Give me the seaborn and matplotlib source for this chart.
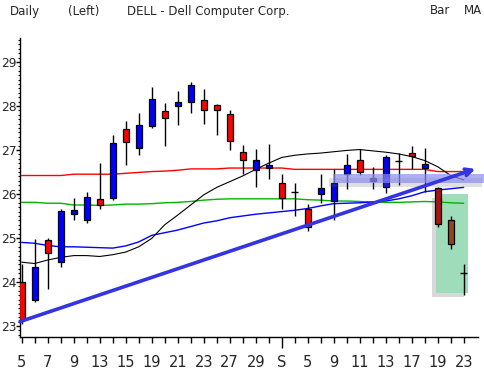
import numpy as np
import matplotlib
matplotlib.use("Agg")
import matplotlib.pyplot as plt
import seaborn as sns
from matplotlib.patches import Rectangle
from matplotlib.ticker import MultipleLocator

# daily OHLC, DELL, Aug 5 - Sep 23
opens  = [24.00, 23.59, 24.95, 24.45, 25.55, 25.42, 25.89, 25.92, 27.47, 27.05,
          27.55, 27.88, 28.01, 28.10, 28.13, 28.02, 27.82, 26.95, 26.55, 26.60,
          26.24, 26.04, 25.67, 26.00, 25.84, 26.46, 26.77, 26.30, 26.17, 26.76,
          26.93, 26.60, 26.13, 25.40, 24.20]
highs  = [24.42, 24.97, 24.99, 25.65, 25.91, 26.05, 26.71, 27.35, 27.66, 27.83,
          28.43, 28.07, 28.34, 28.55, 28.39, 28.05, 27.92, 27.11, 27.02, 27.14,
          26.45, 26.24, 25.77, 26.45, 26.56, 26.91, 27.02, 26.61, 26.89, 26.93,
          27.08, 27.05, 26.17, 25.50, 24.41]
lows   = [23.05, 23.54, 23.85, 24.35, 25.42, 25.34, 25.67, 25.86, 26.66, 26.89,
          27.51, 27.08, 27.57, 27.85, 27.60, 27.33, 26.99, 26.45, 26.17, 26.33,
          25.67, 25.51, 25.17, 25.80, 25.41, 26.11, 26.43, 26.12, 26.03, 26.20,
          26.57, 26.05, 25.24, 24.76, 23.71]
closes = [23.14, 24.33, 24.67, 25.61, 25.63, 25.93, 25.76, 27.17, 27.19, 27.57,
          28.16, 27.73, 28.08, 28.48, 27.90, 27.92, 27.20, 26.77, 26.77, 26.65,
          25.92, 26.04, 25.26, 26.14, 26.24, 26.65, 26.49, 26.36, 26.83, 26.76,
          26.87, 26.68, 25.31, 24.86, 24.20]

# moving averages
ma_red   = [26.42, 26.42, 26.42, 26.42, 26.45, 26.45, 26.45, 26.45, 26.47, 26.49,
            26.51, 26.52, 26.54, 26.57, 26.57, 26.57, 26.59, 26.59, 26.59, 26.59,
            26.59, 26.56, 26.56, 26.56, 26.56, 26.56, 26.56, 26.56, 26.56, 26.56,
            26.56, 26.56, 26.51, 26.51, 26.51]
ma_green = [25.81, 25.81, 25.79, 25.79, 25.75, 25.75, 25.74, 25.75, 25.77, 25.77,
            25.78, 25.80, 25.81, 25.83, 25.86, 25.88, 25.89, 25.89, 25.89, 25.89,
            25.89, 25.89, 25.87, 25.86, 25.84, 25.84, 25.83, 25.81, 25.81, 25.81,
            25.82, 25.83, 25.82, 25.80, 25.79]
ma_blue  = [24.90, 24.88, 24.83, 24.80, 24.80, 24.79, 24.78, 24.77, 24.82, 24.91,
            25.06, 25.12, 25.18, 25.26, 25.34, 25.39, 25.46, 25.50, 25.54, 25.57,
            25.60, 25.63, 25.67, 25.73, 25.78, 25.79, 25.80, 25.82, 25.84, 25.89,
            25.96, 26.05, 26.09, 26.12, 26.15]
ma_black = [24.45, 24.42, 24.50, 24.56, 24.60, 24.60, 24.58, 24.62, 24.68, 24.80,
            24.99, 25.30, 25.52, 25.75, 25.98, 26.15, 26.28, 26.41, 26.56, 26.70,
            26.83, 26.88, 26.91, 26.93, 26.96, 26.99, 27.01, 26.98, 26.95, 26.91,
            26.85, 26.76, 26.62, 26.42, 26.32]

# trendline end points (day index, price)
trend_x = [-0.13, 34.9]
trend_y = [23.10, 26.57]

# highlighted zones
band_days = [23.95, 35.7]
band_prices = [26.24, 26.45]
box_days = [31.87, 34.3]
box_prices = [23.74, 26.00]

tick_labels = ["5", "7", "9", "13", "15", "19", "21", "23", "27", "29",
               "S", "5", "9", "11", "13", "17", "19", "23"]

days = np.arange(len(opens))

sns.set_style("white")
plt.rcParams['font.family'] = ['DejaVu Sans']

fig = plt.figure(figsize=(4.85, 3.73), dpi=100)
ax = fig.add_axes([20 / 485, 36 / 373, 458 / 485, 299 / 373])
ax.set_xlim(-0.13, 35.1)
ax.set_ylim(22.75, 29.545)

# green highlight box with shadow
px = 1 / 13.0   # one pixel in day units
py = 1 / 44.0   # one pixel in price units
ax.add_patch(Rectangle((box_days[0] - 4 * px, box_prices[0] - 4 * py),
                       box_days[1] - box_days[0], box_prices[1] - box_prices[0],
                       color="#808080", alpha=0.3, lw=0, zorder=1))
ax.add_patch(Rectangle((box_days[0], box_prices[0]),
                       box_days[1] - box_days[0], box_prices[1] - box_prices[0],
                       color="#9fdcba", lw=0, zorder=1.1))

# moving averages
sns.lineplot(x=days, y=ma_red, ax=ax, color="#ff0000", lw=1, zorder=2)
sns.lineplot(x=days, y=ma_green, ax=ax, color="#00b400", lw=1, zorder=2)
sns.lineplot(x=days, y=ma_blue, ax=ax, color="#0000ff", lw=1, zorder=2)
sns.lineplot(x=days, y=ma_black, ax=ax, color="black", lw=0.8, zorder=2)

# candles
o = np.array(opens); c = np.array(closes)
ax.vlines(days, lows, highs, color="black", lw=1, zorder=3)
colors = []
for i in days:
    if c[i] > o[i]:
        colors.append("#0000ff")
    elif i == 32:
        colors.append("#a81414")
    elif i == 33:
        colors.append("#8b4a1e")
    else:
        colors.append("#ff0000")
body = np.where(np.abs(c - o) < 0.005, 0, c - o)
mask = body != 0
ax.bar(days[mask], body[mask], bottom=o[mask], width=0.45,
       color=np.array(colors)[mask], edgecolor="black", lw=0.9, zorder=4)
ax.hlines(c[~mask], days[~mask] - 0.25, days[~mask] + 0.25,
          color="black", lw=1, zorder=4)

# blue band with shadow
ax.add_patch(Rectangle((band_days[0] - 4 * px, band_prices[0] - 4 * py),
                       band_days[1] - band_days[0], band_prices[1] - band_prices[0],
                       color="#707070", alpha=0.22, lw=0, zorder=5, clip_on=False))
ax.add_patch(Rectangle((band_days[0], band_prices[0]),
                       band_days[1] - band_days[0], band_prices[1] - band_prices[0],
                       color="#8c8cf0", alpha=0.7, lw=0, zorder=5.1, clip_on=False))

# trendline arrow
ax.annotate("", xy=(trend_x[1], trend_y[1]), xytext=(trend_x[0], trend_y[0]),
            arrowprops=dict(arrowstyle="->", color="#3434e0", lw=2.6,
                            shrinkA=0, shrinkB=0, mutation_scale=12),
            zorder=6)

# axes styling
for s in ["top", "right"]:
    ax.spines[s].set_visible(False)
for s in ["left", "bottom"]:
    ax.spines[s].set_color("black")
    ax.spines[s].set_linewidth(1)

ax.yaxis.set_major_locator(MultipleLocator(1))
ax.yaxis.set_minor_locator(MultipleLocator(0.1))
ax.set_yticks(range(23, 30))
ax.set_yticklabels([str(v) for v in range(23, 30)])
ax.tick_params(axis="y", which="major", direction="out", length=2.6, width=1,
               pad=0, labelsize=8.8, left=True, color="black")
ax.tick_params(axis="y", which="minor", direction="out", length=1.5, width=0.8,
               left=True, color="black")

ax.set_xticks(days[::2])
ax.set_xticklabels(tick_labels)
ax.set_xticks(days[1::2], minor=True)
ax.tick_params(axis="x", which="both", direction="out", length=4, width=1,
               pad=9, labelsize=10.5, bottom=True, color="black")
ax.xaxis.get_major_ticks()[10].tick1line.set_markersize(8)

ax.set_xlabel("")
ax.set_ylabel("")
ax.grid(False)

# header texts
fig.text(10 / 485, 1 - 11 / 373, "Daily", fontsize=8.5, va="center")
fig.text(68 / 485, 1 - 11 / 373, "(Left)", fontsize=8.5, va="center")
fig.text(127 / 485, 1 - 11 / 373, "DELL - Dell Computer Corp.", fontsize=8.5, va="center")
fig.text(430 / 485, 1 - 11 / 373, "Bar", fontsize=8.5, va="center")
fig.text(464 / 485, 1 - 11 / 373, "MA", fontsize=8.5, va="center")

fig.savefig("out.png", dpi=100)
